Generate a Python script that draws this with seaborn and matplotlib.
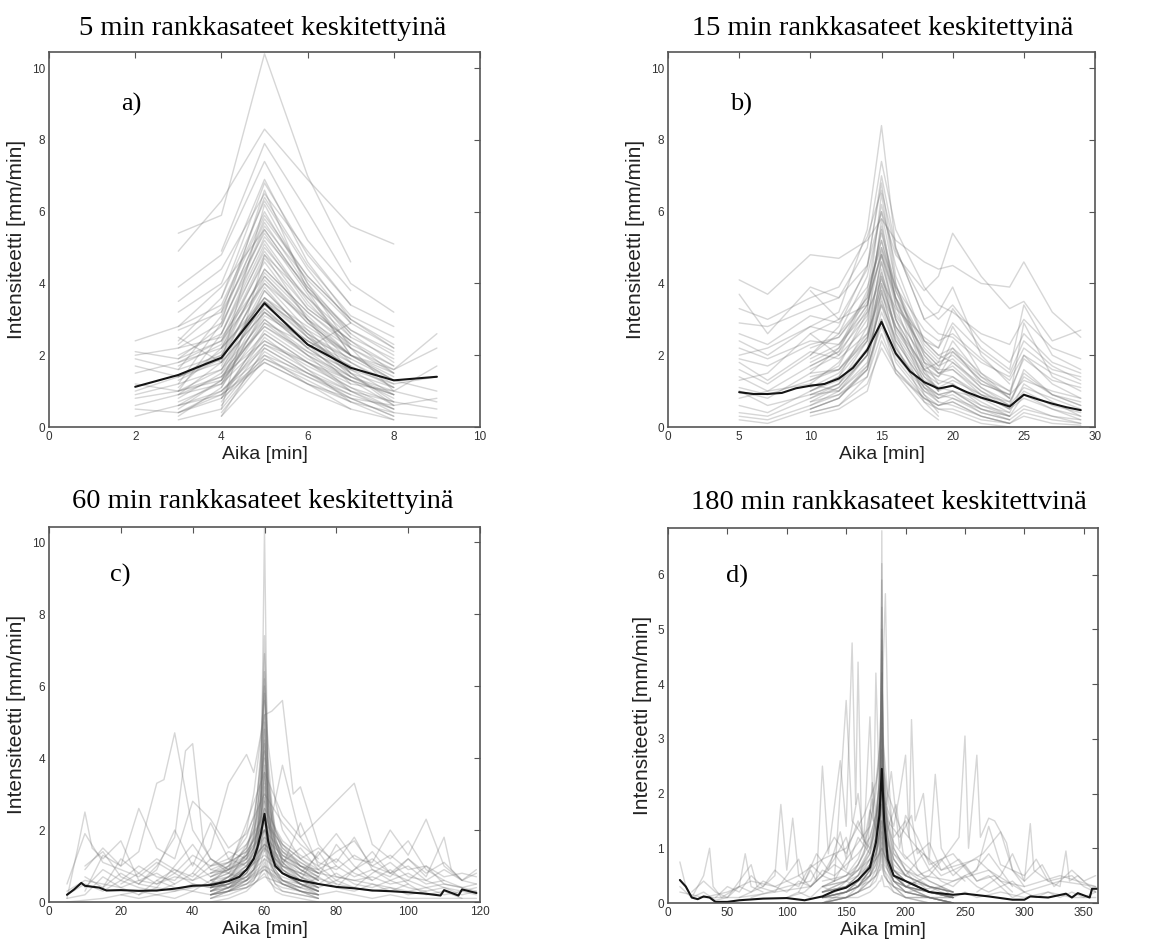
import numpy as np
import pandas as pd
import matplotlib
matplotlib.use("Agg")
import matplotlib.pyplot as plt
import seaborn as sns

# ---------------------------------------------------------------- data
N = None

# a) 5 min events, one value per minute: (start minute, values)
A_LINES = [
    (2, [2.4, 2.8, 3.9, 5.5, 3.8, 2.6, 1.8]),
    (2, [2.0, 2.2, 2.5, 4.2, 3.0, 2.0, 1.5]),
    (2, [1.5, 1.8, 2.2, 3.5, 2.5, 1.6, 0.9]),
    (2, [0.9, 1.2, 1.6, 3.0, 2.1, 1.3, 0.6]),
    (2, [0.3, 0.6, 1.0, 2.2, 1.5, 0.8, 0.3]),
    (2, [0.5, 0.4, 0.9, 1.8, 1.2, 0.7, 0.2]),
    (2, [1.2, 1.0, 1.3, 2.6, 1.8, 1.0, 0.5]),
    (2, [1.9, 1.6, 2.0, 3.3, 2.3, 1.5, 1.1]),
    (2, [2.1, 1.9, 2.4, 4.0, 3.0, 2.2, 1.6, 2.2]),
    (2, [0.8, 1.0, 1.4, 2.8, 2.0, 1.4, 1.0, 0.7]),
    (2, [1.7, 1.4, 1.8, 3.2, 2.4, 1.8, 1.2, 1.4]),
    (2, [1.0, 1.4, 1.9, 3.6, 2.6, 1.9, 1.3, 1.0]),
    (2, [0.6, 0.9, 1.2, 2.4, 1.7, 1.1, 0.7, 0.5]),
    (3, [5.4, 5.9, 10.4, 7.0, 4.6]),
    (3, [4.9, 6.3, 8.3, 6.9, 5.6, 5.1]),
    (3, [3.9, 4.8, 7.4, 5.2, 3.8]),
    (3, [3.2, 4.0, 6.9, 4.6, 3.0]),
    (3, [2.8, 3.4, 6.0, 4.0, 2.6]),
    (3, [2.2, 2.9, 5.2, 3.5, 2.2]),
    (3, [1.8, 2.4, 4.6, 3.0, 1.8]),
    (3, [1.4, 2.0, 4.0, 2.7, 1.5]),
    (3, [1.0, 1.6, 3.5, 2.3, 1.2]),
    (3, [0.7, 1.2, 3.0, 2.0, 1.0]),
    (3, [0.4, 0.8, 2.5, 1.6, 0.7]),
    (3, [0.2, 0.5, 2.0, 1.2, 0.5]),
    (3, [2.5, 1.8, 3.2, 2.2, 2.9]),
    (3, [1.2, 2.9, 6.6, 3.8, 2.0]),
    (3, [0.5, 1.3, 3.8, 2.6, 1.4]),
    (3, [1.1, 2.2, 4.3, 3.1, 2.0]),
    (3, [2.0, 2.6, 4.9, 3.3, 2.4]),
    (3, [1.6, 3.1, 5.7, 3.9, 2.5]),
    (3, [0.8, 1.5, 2.8, 2.1, 1.6]),
    (3, [2.4, 3.6, 6.3, 4.4, 2.9]),
    (3, [1.3, 1.9, 3.6, 2.5, 1.9]),
    (3, [3.5, 4.4, 6.5, 4.9, 3.4]),
    (3, [0.6, 0.9, 1.9, 1.4, 0.9]),
    (3, [1.7, 2.3, 4.8, 3.6, 2.3]),
    (3, [0.9, 1.4, 3.1, 2.4, 1.7]),
    (3, [2.7, 3.2, 5.4, 3.7, 2.0]),
    (3, [0.4, 1.0, 2.3, 1.8, 1.3]),
    (3, [1.9, 2.8, 5.5, 3.8, 2.7, 2.0]),
    (3, [0.9, 1.8, 4.2, 2.9, 2.0, 1.3]),
    (3, [0.3, 1.1, 3.3, 2.2, 1.4, 0.9]),
    (3, [1.4, 2.1, 4.4, 3.2, 2.3, 1.7]),
    (3, [0.6, 1.3, 2.9, 2.3, 1.7, 1.1]),
    (3, [2.3, 3.3, 5.9, 4.2, 3.0, 2.2]),
    (3, [1.0, 2.6, 5.1, 3.4, 2.4, 1.5]),
    (4, [4.9, 7.9, 6.0, 4.0, 3.2]),
    (4, [3.6, 6.8, 4.8, 3.4, 2.8]),
    (4, [3.0, 5.8, 4.2, 3.0, 2.3]),
    (4, [2.4, 5.0, 3.6, 2.5, 1.9]),
    (4, [2.0, 4.4, 3.2, 2.2, 1.5]),
    (4, [1.6, 3.8, 2.6, 1.8, 1.1]),
    (4, [1.2, 3.2, 2.2, 1.4, 0.8]),
    (4, [0.9, 2.6, 1.8, 1.1, 0.5]),
    (4, [0.6, 2.1, 1.4, 0.8, 0.3]),
    (4, [0.3, 1.6, 1.0, 0.5, 0.2]),
    (4, [1.8, 6.2, 4.0, 2.2, 1.0]),
    (4, [0.5, 4.8, 3.0, 1.5, 0.6]),
    (4, [1.3, 3.4, 2.4, 1.6, 1.2]),
    (4, [2.6, 5.3, 3.9, 2.7, 2.1]),
    (4, [0.7, 2.3, 1.6, 1.0, 0.7]),
    (4, [1.9, 4.1, 2.9, 2.0, 1.4]),
    (4, [3.2, 6.4, 4.5, 3.1, 2.5]),
    (4, [1.1, 2.9, 2.0, 1.3, 0.9]),
    (4, [2.2, 4.7, 3.3, 2.4, 1.7]),
    (4, [0.4, 1.9, 1.3, 0.7, 0.4]),
    (4, [1.5, 3.5, 2.7, 2.0, 1.3]),
    (4, [2.8, 5.6, 4.1, 2.9, 2.2]),
    (4, [0.8, 2.7, 1.9, 1.3, 0.9]),
    (4, [1.7, 3.9, 2.5, 1.5, 0.7]),
    (4, [0.3, 2.2, 1.5, 0.9, 0.5]),
    (4, [2.2, 3.6, 2.8, 2.0, 1.6, 2.6]),
    (4, [1.4, 2.4, 1.8, 1.2, 1.0, 1.7]),
    (4, [0.8, 1.8, 1.2, 0.8, 0.6, 0.8]),
    (4, [1.0, 2.0, 1.5, 1.0, 0.4, 0.25]),
]
A_MEAN_T = [2, 3, 4, 5, 6, 7, 8, 9]
A_MEAN = [1.12, 1.45, 1.93, 3.45, 2.3, 1.65, 1.3, 1.4]

# b) 15 min events on a shared time grid (None = outside the event)
B_T = [5, 7, 10, 12, 14, 15, 16, 18, 19, 20, 22, 24, 25, 27, 29]
B_LINES = [
    [4.1, 3.7, 4.8, 4.7, 5.2, 5.8, 5.2, 4.6, 4.4, 4.5, 4.0, 3.9, 4.6, 3.2, 2.5],
    [3.7, 2.6, 3.9, 3.6, 4.5, 6.0, 4.8, 3.8, 4.2, 5.4, 4.2, 3.3, 3.5, 2.4, 2.7],
    [2.9, 2.8, 3.3, 3.6, 5.0, 7.4, 5.5, 3.9, 3.4, 3.2, 2.6, 2.3, 3.0, 2.2, 1.9],
    [2.4, 2.0, 2.8, 3.2, 5.5, 8.4, 5.0, 3.0, 2.6, 2.5, 1.8, 1.4, 2.2, 1.6, 1.4],
    [1.6, 1.2, 2.0, 2.8, 4.5, 6.8, 4.2, 2.4, 2.0, 2.2, 1.2, 0.9, 1.3, 1.0, 0.8],
    [1.0, 0.8, 1.5, 2.2, 3.4, 5.5, 3.6, 2.0, 1.5, 1.6, 1.0, 0.5, 1.0, 0.6, 0.4],
    [0.6, 0.4, 1.0, 1.4, 2.4, 4.2, 2.6, 1.4, 1.0, 1.2, 0.6, 0.3, 0.6, 0.3, 0.2],
    [0.2, 0.1, 0.5, 0.8, 1.6, 3.0, 1.8, 0.8, 0.5, 0.5, 0.2, 0.1, 0.3, 0.1, 0.05],
    [1.3, 1.5, 2.6, 2.0, 2.8, 4.6, 3.0, 1.6, 1.8, 2.8, 1.5, 0.8, 2.9, 1.4, 1.0],
    [0.8, 1.0, 1.2, 1.0, 1.8, 3.6, 2.2, 1.1, 0.9, 1.0, 0.8, 0.6, 1.6, 0.9, 0.6],
    [3.3, 3.0, 3.6, 3.9, 5.3, 6.6, 4.9, 3.4, 3.0, 3.4, 2.4, 1.8, 2.6, 1.8, 1.5],
    [2.6, 2.3, 3.1, 2.9, 3.9, 5.0, 3.9, 2.7, 2.4, 2.6, 1.9, 1.3, 2.0, 1.5, 1.2],
    [1.9, 1.7, 2.3, 2.5, 3.5, 4.8, 3.4, 2.1, 1.7, 1.9, 1.1, 0.7, 1.4, 0.9, 0.7],
    [1.4, 1.0, 1.7, 2.1, 3.1, 4.3, 3.1, 1.9, 1.5, 1.7, 1.0, 0.6, 1.1, 0.8, 0.5],
    [0.4, 0.3, 0.8, 1.1, 2.0, 3.4, 2.1, 1.1, 0.8, 0.9, 0.4, 0.2, 0.5, 0.3, 0.1],
    [1.1, 0.9, 1.3, 1.6, 2.5, 3.9, 2.7, 1.5, 1.2, 1.4, 0.9, 0.5, 0.8, 0.5, 0.3],
    [0.3, 0.2, 0.6, 0.9, 1.4, 2.6, 1.6, 0.8, 0.6, 0.7, 0.3, 0.1, 0.4, 0.2, 0.1],
    [2.2, 1.9, 2.4, 2.3, 3.2, 4.1, 3.3, 2.5, 2.2, 2.9, 2.1, 1.5, 2.4, 1.7, 1.3],
    [1.8, 1.3, 2.1, 1.9, 2.6, 3.7, 2.8, 1.7, 1.4, 2.1, 1.4, 1.0, 1.9, 1.3, 1.1],
    [N, N, 1.8, 2.2, 3.8, 6.2, 4.5, 2.4, 2.0, 1.8, 1.1, 0.6, N, N, N],
    [N, N, 1.2, 1.8, 3.0, 5.0, 3.6, 1.8, 1.5, 1.4, 0.8, 0.4, N, N, N],
    [N, N, 0.8, 1.2, 2.2, 4.0, 2.8, 1.4, 1.1, 1.0, 0.5, 0.2, N, N, N],
    [N, N, 0.5, 0.8, 1.6, 3.2, 2.2, 1.0, 0.7, 0.6, 0.3, 0.1, N, N, N],
    [N, N, 0.3, 0.5, 1.0, 2.4, 1.6, 0.7, 0.5, 0.4, 0.1, 0.0, N, N, N],
    [N, N, 2.6, 3.0, 4.4, 7.0, 5.0, 3.0, 3.2, 3.9, 2.0, 1.2, N, N, N],
    [N, N, 1.5, 1.6, 2.6, 4.6, 3.2, 1.8, 1.6, 2.4, 1.4, 0.8, N, N, N],
    [N, N, 2.2, 2.5, 3.6, 5.4, 3.9, 2.3, 1.9, 2.1, 1.3, 0.9, N, N, N],
    [N, N, 1.6, 2.0, 3.3, 5.6, 3.8, 2.0, 1.6, 1.6, 0.9, 0.5, N, N, N],
    [N, N, 1.1, 1.5, 2.5, 4.2, 3.0, 1.6, 1.3, 1.2, 0.7, 0.3, N, N, N],
    [N, N, 0.7, 1.1, 2.0, 3.5, 2.4, 1.2, 0.9, 0.8, 0.4, 0.2, N, N, N],
    [N, N, 0.9, 1.0, 1.7, 2.8, 1.9, 0.9, 0.6, 0.7, 0.3, 0.1, N, N, N],
    [N, N, 1.9, 2.3, 3.4, 4.9, 3.5, 2.1, 1.7, 2.2, 1.5, 1.0, N, N, N],
    [N, N, 1.0, 1.4, 2.8, 5.8, 3.4, 1.2, 0.8, N, N, N, N, N, N],
    [N, N, 0.6, 1.0, 2.0, 4.4, 2.6, 0.9, 0.4, N, N, N, N, N, N],
    [N, N, 2.0, 2.6, 4.2, 6.0, 4.0, 1.8, 1.2, N, N, N, N, N, N],
    [N, N, 0.4, 0.6, 1.4, 3.0, 1.5, 0.5, 0.2, N, N, N, N, N, N],
    [N, N, 1.3, 1.7, 3.2, 6.5, 4.0, 1.6, 1.0, N, N, N, N, N, N],
    [N, N, 0.9, 1.2, 2.4, 4.8, 3.0, 1.1, 0.7, N, N, N, N, N, N],
    [N, N, 0.5, 0.8, 1.7, 3.8, 2.3, 0.7, 0.3, N, N, N, N, N, N],
    [N, N, 1.7, 2.1, 3.7, 5.2, 3.6, 1.5, 1.0, N, N, N, N, N, N],
    [2.0, 2.2, 2.8, 2.6, 3.6, 5.2, 3.8, 2.2, 1.8, 2.0, 1.3, 0.8, N, N, N],
    [1.0, 0.6, 0.9, 1.2, 2.0, 3.8, 2.4, 1.2, 0.9, 1.0, 0.5, 0.3, N, N, N],
    [N, N, 1.4, 1.6, 2.4, 4.0, 2.8, 1.6, 1.4, 1.8, 1.2, 0.9, 2.0, 1.2, 0.8],
    [N, N, 0.7, 0.9, 1.6, 3.0, 2.0, 1.0, 0.8, 1.0, 0.6, 0.4, 1.2, 0.7, 0.3],
    [N, N, 3.8, 3.0, 3.4, 4.8, 3.6, 2.4, 2.2, 3.3, 2.2, 1.6, 3.4, 2.0, 1.6],
    [N, N, 1.0, 1.3, 2.1, 3.4, 2.5, 1.3, 1.1, 1.3, 0.9, 0.7, 1.5, 0.9, 0.6],
    [N, N, 0.4, 0.6, 1.2, 2.2, 1.5, 0.8, 0.6, 0.8, 0.5, 0.3, 0.9, 0.5, 0.2],
]
B_MEAN_T = list(range(5, 30))
B_MEAN = [0.97, 0.92, 0.92, 0.95, 1.08, 1.15, 1.2, 1.35, 1.65, 2.15, 2.93,
          2.05, 1.55, 1.25, 1.07, 1.15, 0.97, 0.82, 0.7, 0.57, 0.9, 0.77,
          0.65, 0.55, 0.47]

# c) 60 min events: intensity around the peak minute ...
C_CORE_T = [45, 50, 55, 57, 58, 59, 60, 61, 62, 63, 65, 70, 75]
C_CORE = [
    [0.3, 0.5, 0.9, 1.2, 1.6, 2.6, 10.4, 2.4, 1.4, 1.1, 0.8, 0.5, 0.3],
    [0.6, 0.9, 1.5, 2.2, 3.0, 4.2, 7.4, 4.0, 2.8, 2.0, 1.4, 0.9, 0.6],
    [0.4, 0.7, 1.2, 1.8, 2.5, 3.6, 6.9, 3.4, 2.4, 1.8, 1.2, 0.7, 0.4],
    [0.8, 1.1, 1.8, 2.4, 3.0, 3.8, 6.0, 3.5, 2.6, 2.0, 1.6, 1.0, 0.7],
    [0.2, 0.4, 0.8, 1.2, 1.8, 2.8, 5.2, 2.6, 1.8, 1.3, 0.9, 0.5, 0.3],
    [0.5, 0.6, 1.0, 1.5, 2.0, 2.8, 4.5, 2.6, 2.0, 1.6, 1.2, 0.8, 0.5],
    [0.3, 0.5, 0.8, 1.2, 1.6, 2.4, 4.0, 2.2, 1.6, 1.2, 0.8, 0.5, 0.2],
    [1.0, 1.2, 1.6, 2.0, 2.4, 2.9, 3.5, 2.8, 2.3, 2.0, 1.6, 1.2, 0.9],
    [0.1, 0.3, 0.6, 0.9, 1.3, 1.9, 3.0, 1.7, 1.2, 0.9, 0.6, 0.3, 0.1],
    [0.4, 0.6, 0.9, 1.2, 1.5, 2.0, 2.6, 1.8, 1.4, 1.1, 0.8, 0.5, 0.3],
    [0.2, 0.4, 0.7, 0.9, 1.2, 1.6, 2.2, 1.5, 1.1, 0.9, 0.6, 0.4, 0.2],
    [0.6, 0.7, 0.9, 1.1, 1.3, 1.5, 1.8, 1.4, 1.2, 1.0, 0.8, 0.6, 0.5],
    [0.1, 0.2, 0.4, 0.6, 0.8, 1.1, 1.5, 1.0, 0.7, 0.5, 0.3, 0.2, 0.1],
    [0.3, 0.4, 0.6, 0.8, 0.9, 1.0, 1.2, 0.9, 0.8, 0.6, 0.5, 0.3, 0.2],
    [0.0, 0.1, 0.3, 0.5, 0.6, 0.8, 1.0, 0.7, 0.5, 0.3, 0.2, 0.1, 0.0],
    [0.2, 0.3, 0.4, 0.5, 0.6, 0.7, 0.8, 0.6, 0.5, 0.4, 0.3, 0.2, 0.1],
    [0.5, 1.0, 2.0, 3.0, 3.8, 4.6, 5.8, 4.4, 3.6, 2.8, 2.0, 1.2, 0.8],
    [0.3, 0.6, 1.4, 2.2, 3.0, 4.0, 6.4, 3.6, 2.6, 1.8, 1.1, 0.6, 0.3],
    [0.7, 0.9, 1.3, 1.6, 2.0, 2.4, 3.2, 2.4, 2.0, 1.7, 1.4, 1.0, 0.7],
    [0.4, 0.5, 0.7, 1.0, 1.4, 1.8, 2.4, 1.9, 1.5, 1.2, 0.9, 0.6, 0.4],
    [0.5, 0.7, 1.1, 1.5, 2.0, 2.9, 5.0, 2.8, 2.1, 1.6, 1.1, 0.7, 0.5],
    [0.3, 0.6, 1.0, 1.4, 1.9, 2.7, 4.8, 2.5, 1.8, 1.4, 1.0, 0.6, 0.4],
    [0.6, 0.8, 1.3, 1.8, 2.3, 3.1, 4.2, 3.0, 2.2, 1.7, 1.3, 0.9, 0.6],
    [0.2, 0.4, 0.9, 1.4, 2.1, 3.0, 5.6, 2.7, 1.9, 1.4, 0.9, 0.5, 0.3],
    [0.4, 0.5, 0.8, 1.1, 1.5, 2.1, 3.8, 2.0, 1.5, 1.1, 0.8, 0.5, 0.3],
    [0.7, 0.9, 1.2, 1.5, 1.8, 2.3, 3.3, 2.2, 1.8, 1.5, 1.2, 0.9, 0.6],
    [0.2, 0.3, 0.6, 0.8, 1.1, 1.5, 2.8, 1.4, 1.0, 0.8, 0.5, 0.3, 0.2],
    [0.5, 0.6, 0.9, 1.2, 1.6, 2.2, 3.6, 2.3, 1.7, 1.3, 1.0, 0.7, 0.5],
    [0.3, 0.4, 0.6, 0.9, 1.1, 1.4, 2.0, 1.3, 1.0, 0.8, 0.6, 0.4, 0.3],
    [0.9, 1.1, 1.4, 1.7, 2.0, 2.4, 2.9, 2.2, 1.9, 1.6, 1.3, 1.0, 0.8],
    [0.1, 0.3, 0.5, 0.7, 1.0, 1.3, 1.7, 1.2, 0.9, 0.7, 0.5, 0.3, 0.1],
    [0.4, 0.5, 0.7, 0.9, 1.1, 1.3, 1.6, 1.2, 1.0, 0.8, 0.6, 0.5, 0.3],
    [0.6, 0.8, 1.1, 1.3, 1.5, 1.7, 2.0, 1.6, 1.4, 1.2, 1.0, 0.8, 0.6],
    [0.2, 0.3, 0.5, 0.6, 0.8, 0.9, 1.1, 0.8, 0.7, 0.5, 0.4, 0.3, 0.2],
    [0.4, 0.7, 1.3, 1.9, 2.6, 3.5, 6.2, 3.3, 2.3, 1.6, 1.1, 0.7, 0.4],
    [0.8, 1.0, 1.5, 2.0, 2.6, 3.3, 4.4, 3.1, 2.4, 1.9, 1.5, 1.1, 0.8],
]
# ... and the rest of each event, as (minute, intensity) pairs
C_WIDE = [
    [(10, 0.3), (15, 1.3), (20, 1.0), (25, 1.4), (30, 3.3), (32, 3.4), (35, 4.7), (40, 2.0),
     (45, 1.2), (50, 0.8), (55, 0.6), (60, 0.9), (65, 0.5), (70, 0.4)],
    [(25, 0.5), (30, 1.0), (35, 1.8), (38, 4.2), (40, 4.4), (43, 1.6), (45, 1.2), (50, 0.9),
     (55, 1.2), (60, 2.0), (65, 1.0), (70, 0.8), (80, 0.5)],
    [(5, 0.1), (8, 1.5), (10, 2.5), (12, 1.5), (15, 1.2), (20, 1.7), (25, 0.6), (30, 0.8), (35, 0.5)],
    [(10, 0.9), (15, 1.5), (20, 1.0), (25, 2.6), (30, 1.5), (35, 1.2), (40, 2.8), (45, 2.3),
     (50, 1.5), (55, 1.9), (60, 3.0), (65, 2.2), (70, 1.6), (75, 1.2)],
    [(40, 0.8), (45, 1.5), (50, 3.3), (55, 4.1), (57, 3.6), (60, 5.2), (62, 5.3), (65, 5.6),
     (68, 3.0), (70, 3.2), (75, 1.6), (80, 1.0)],
    [(60, 1.4), (65, 3.8), (70, 1.8), (75, 2.3), (80, 2.8), (85, 3.3), (90, 1.6), (95, 1.2),
     (100, 1.7), (105, 0.9), (110, 0.6)],
    [(70, 0.8), (75, 1.3), (80, 1.9), (85, 1.2), (90, 1.1), (95, 2.0), (100, 1.3), (105, 2.3),
     (110, 1.0), (115, 0.6), (119, 0.5)],
    [(80, 0.4), (85, 0.9), (90, 1.4), (95, 0.8), (100, 1.2), (105, 0.7), (110, 1.8), (112, 0.9),
     (115, 0.6), (119, 0.9)],
    [(15, 0.4), (20, 0.8), (25, 0.5), (30, 0.9), (35, 2.0), (40, 1.0), (45, 2.2), (50, 1.2),
     (55, 1.0), (60, 1.6), (65, 1.2), (70, 0.9), (75, 0.7), (80, 1.6), (85, 1.0), (90, 0.6)],
    [(5, 0.3), (10, 0.6), (15, 0.5), (20, 0.4), (25, 0.6), (30, 0.5), (35, 0.7), (40, 0.6),
     (45, 0.8), (50, 0.9), (55, 1.1), (60, 1.8), (65, 1.3), (70, 1.0), (75, 0.8), (80, 0.7),
     (85, 0.6), (90, 0.7), (95, 0.5), (100, 0.6), (105, 0.4), (110, 0.5), (115, 0.4), (119, 0.3)],
    [(10, 1.0), (15, 1.4), (20, 0.7), (25, 0.5), (30, 0.4), (35, 1.0), (40, 1.6), (45, 0.9),
     (50, 0.8), (55, 1.6), (60, 2.4), (65, 1.5), (70, 1.0), (75, 0.9), (80, 1.2), (85, 0.8),
     (90, 0.6), (95, 0.9), (100, 0.5)],
    [(20, 0.2), (25, 0.3), (30, 0.2), (35, 0.3), (40, 0.4), (45, 0.5), (50, 0.4), (55, 0.7),
     (60, 1.2), (65, 0.8), (70, 0.6), (75, 1.4), (80, 0.7), (85, 0.6), (90, 0.5), (95, 0.4),
     (100, 0.3), (105, 0.4), (110, 0.2), (115, 0.3), (119, 0.2)],
    [(30, 0.6), (35, 0.9), (40, 0.7), (45, 1.2), (50, 0.9), (55, 2.2), (60, 3.6), (65, 2.4),
     (70, 1.8), (75, 1.1), (80, 0.9), (85, 1.3), (90, 1.0), (95, 0.8), (100, 1.0), (105, 0.6),
     (110, 0.9), (115, 0.6)],
    [(50, 0.3), (55, 0.8), (60, 1.5), (65, 1.0), (70, 2.2), (75, 1.0), (80, 1.4), (85, 1.7),
     (90, 1.0), (95, 1.3), (100, 0.9), (105, 1.0), (110, 0.7), (115, 0.8), (119, 0.7)],
    [(5, 0.2), (10, 0.5), (15, 0.3), (20, 0.6), (25, 0.4), (30, 0.3), (35, 0.5), (40, 0.8),
     (45, 0.5), (50, 0.6), (55, 0.9), (60, 1.3), (65, 0.9), (70, 0.6), (75, 0.5), (80, 0.8),
     (85, 0.5), (90, 0.4), (95, 0.6), (100, 0.4), (105, 0.3), (110, 0.4), (115, 0.2), (119, 0.3)],
    [(5, 0.1), (10, 0.2), (15, 0.7), (20, 0.4), (25, 0.2), (30, 0.6), (35, 0.4), (40, 0.3),
     (45, 0.6), (50, 0.4), (55, 0.5), (60, 0.9), (65, 0.6), (70, 0.4), (75, 0.7), (80, 0.4),
     (85, 0.3), (90, 0.5), (95, 0.3), (100, 0.5), (105, 0.2), (110, 0.3), (115, 0.1)],
    [(10, 0.4), (15, 0.9), (20, 0.6), (25, 1.0), (30, 0.7), (35, 0.6), (40, 1.1), (45, 0.7),
     (50, 1.0), (55, 1.3), (60, 2.0), (65, 1.4), (70, 1.1), (75, 0.8), (80, 1.0), (85, 0.7),
     (90, 0.9), (95, 0.6), (100, 0.8), (105, 0.5), (110, 0.6), (115, 0.4), (119, 0.5)],
    [(5, 0.0), (15, 0.1), (20, 0.2), (25, 0.1), (30, 0.2), (35, 0.1), (40, 0.3), (45, 0.2),
     (50, 0.3), (55, 0.4), (60, 0.7), (65, 0.5), (70, 0.3), (75, 0.2), (80, 0.3), (85, 0.2),
     (90, 0.1), (95, 0.2), (100, 0.1), (110, 0.1), (119, 0.1)],
    [(20, 0.5), (25, 0.8), (30, 1.2), (35, 0.9), (40, 0.6), (45, 1.0), (50, 1.4), (55, 1.2),
     (60, 2.6), (65, 1.7), (70, 1.3), (75, 1.0), (80, 0.6), (85, 0.9), (90, 1.2), (95, 0.8),
     (100, 0.6), (105, 1.0), (110, 0.5), (115, 0.4)],
    [(10, 0.7), (15, 0.4), (20, 1.2), (25, 0.8), (30, 0.5), (35, 0.8), (40, 0.5), (45, 0.4),
     (50, 0.7), (55, 1.0), (60, 1.6), (65, 1.1), (70, 1.5), (75, 0.9), (80, 0.5), (85, 0.4),
     (90, 0.8), (95, 1.1), (100, 0.7), (105, 0.6), (110, 0.4), (115, 0.3), (119, 0.4)],
    [(25, 0.2), (30, 0.4), (35, 0.3), (40, 0.5), (45, 0.4), (50, 0.5), (55, 0.6), (60, 1.0),
     (65, 0.7), (70, 0.5), (75, 0.4), (80, 0.6), (85, 0.4), (90, 0.3), (95, 0.4), (100, 0.2),
     (105, 0.3)],
    [(5, 0.5), (10, 1.9), (15, 1.1), (20, 0.9), (25, 0.7), (30, 1.1), (35, 0.8), (40, 1.3),
     (45, 1.0), (50, 1.1), (55, 1.4), (60, 2.2), (65, 1.6), (70, 1.2), (75, 1.5), (80, 1.1),
     (85, 1.8), (90, 0.9), (95, 0.7), (100, 1.2), (105, 0.8), (110, 1.1), (115, 0.6), (119, 0.8)],
]
C_MEAN_T = [5, 7, 9, 10, 14, 16, 20, 25, 30, 35, 40, 45, 50, 53, 55, 57, 58, 59, 60,
            61, 62, 63, 65, 67, 70, 75, 80, 85, 90, 95, 100, 105, 109, 110, 114, 115, 119]
C_MEAN = [0.2, 0.35, 0.53, 0.45, 0.4, 0.32, 0.33, 0.31, 0.32, 0.37, 0.45, 0.47, 0.58,
          0.7, 0.9, 1.2, 1.5, 1.9, 2.45, 1.7, 1.3, 1.0, 0.8, 0.7, 0.6, 0.5, 0.42, 0.38,
          0.32, 0.3, 0.27, 0.23, 0.18, 0.33, 0.18, 0.35, 0.25]

# d) 180 min events
D_CORE_T = [130, 150, 160, 170, 175, 178, 179, 180, 181, 182, 185, 190, 200, 220, 240]
D_CORE = [
    [0.1, 0.2, 0.3, 0.6, 0.9, 1.4, 2.0, 6.8, 1.8, 1.2, 0.7, 0.4, 0.3, 0.2, 0.1],
    [0.2, 0.3, 0.5, 0.9, 1.4, 2.2, 3.0, 5.9, 2.6, 1.8, 1.0, 0.6, 0.4, 0.2, 0.1],
    [0.0, 0.1, 0.2, 0.5, 0.8, 1.3, 2.0, 5.0, 1.9, 1.2, 0.7, 0.4, 0.2, 0.1, 0.0],
    [0.3, 0.5, 0.7, 1.2, 1.6, 2.2, 2.8, 4.2, 2.6, 2.0, 1.4, 0.9, 0.6, 0.4, 0.2],
    [0.1, 0.2, 0.4, 0.7, 1.0, 1.6, 2.1, 3.5, 2.0, 1.5, 1.0, 0.6, 0.4, 0.2, 0.1],
    [0.2, 0.4, 0.6, 0.9, 1.2, 1.7, 2.1, 3.0, 1.9, 1.5, 1.1, 0.8, 0.5, 0.3, 0.2],
    [0.1, 0.1, 0.3, 0.5, 0.8, 1.2, 1.7, 2.5, 1.5, 1.1, 0.7, 0.4, 0.2, 0.1, 0.0],
    [0.0, 0.2, 0.3, 0.6, 0.9, 1.2, 1.5, 2.0, 1.4, 1.1, 0.8, 0.5, 0.3, 0.1, 0.0],
    [0.1, 0.2, 0.3, 0.5, 0.7, 0.9, 1.1, 1.5, 1.0, 0.8, 0.6, 0.4, 0.3, 0.2, 0.1],
    [0.2, 0.3, 0.4, 0.5, 0.6, 0.8, 0.9, 1.2, 0.9, 0.7, 0.6, 0.4, 0.3, 0.2, 0.1],
    [0.0, 0.1, 0.2, 0.3, 0.4, 0.6, 0.7, 0.9, 0.6, 0.5, 0.4, 0.2, 0.1, 0.1, 0.0],
    [0.1, 0.2, 0.3, 0.4, 0.5, 0.6, 0.6, 0.7, 0.6, 0.5, 0.4, 0.3, 0.2, 0.1, 0.1],
    [0.0, 0.1, 0.1, 0.2, 0.3, 0.4, 0.4, 0.5, 0.4, 0.3, 0.3, 0.2, 0.1, 0.1, 0.0],
    [0.3, 0.5, 0.8, 1.4, 2.0, 2.8, 3.4, 4.6, 3.0, 2.4, 1.6, 1.0, 0.6, 0.3, 0.2],
    [0.1, 0.3, 0.5, 1.0, 1.5, 2.4, 3.2, 5.4, 2.8, 2.0, 1.2, 0.6, 0.3, 0.2, 0.1],
    [0.2, 0.3, 0.4, 0.8, 1.1, 1.6, 2.2, 4.8, 2.1, 1.5, 0.9, 0.5, 0.3, 0.2, 0.1],
    [0.1, 0.2, 0.3, 0.6, 0.9, 1.3, 1.8, 3.9, 1.6, 1.2, 0.8, 0.5, 0.3, 0.1, 0.1],
    [0.3, 0.4, 0.6, 1.0, 1.3, 1.8, 2.3, 3.3, 2.2, 1.7, 1.2, 0.8, 0.5, 0.3, 0.2],
    [0.0, 0.1, 0.2, 0.4, 0.6, 0.9, 1.3, 2.8, 1.2, 0.9, 0.6, 0.3, 0.1, 0.0, 0.0],
    [0.2, 0.3, 0.5, 0.8, 1.0, 1.3, 1.6, 2.2, 1.5, 1.2, 0.9, 0.6, 0.4, 0.2, 0.1],
    [0.1, 0.2, 0.3, 0.5, 0.7, 1.0, 1.3, 1.8, 1.2, 0.9, 0.7, 0.4, 0.2, 0.1, 0.0],
    [0.4, 0.5, 0.6, 0.8, 0.9, 1.1, 1.2, 1.4, 1.1, 1.0, 0.8, 0.6, 0.5, 0.3, 0.2],
    [0.1, 0.2, 0.4, 0.7, 1.2, 2.0, 2.8, 6.2, 2.4, 1.6, 0.9, 0.5, 0.3, 0.1, 0.0],
    [0.2, 0.4, 0.7, 1.1, 1.5, 2.1, 2.6, 3.8, 2.4, 1.8, 1.3, 0.8, 0.5, 0.3, 0.1],
    [0.0, 0.1, 0.2, 0.3, 0.5, 0.7, 0.9, 1.1, 0.8, 0.6, 0.4, 0.3, 0.1, 0.0, 0.0],
    [0.1, 0.1, 0.2, 0.4, 0.5, 0.7, 0.8, 1.0, 0.7, 0.6, 0.5, 0.3, 0.2, 0.1, 0.0],
    [0.3, 0.4, 0.5, 0.7, 0.8, 0.9, 1.0, 1.3, 1.0, 0.9, 0.7, 0.5, 0.4, 0.3, 0.2],
]
D_WIDE = [
    [(10, 0.75), (15, 0.3), (20, 0.1), (30, 0.5), (35, 1.0), (38, 0.3), (45, 0.1), (60, 0.3),
     (65, 0.9), (70, 0.3), (80, 0.2)],
    [(60, 0.1), (80, 0.3), (90, 0.5), (95, 1.8), (100, 0.6), (105, 1.55), (110, 0.5), (120, 0.3),
     (130, 0.5), (140, 0.8), (150, 1.2), (155, 0.8)],
    [(110, 0.2), (120, 0.6), (125, 0.4), (130, 2.5), (135, 0.9), (145, 2.6), (150, 1.4),
     (155, 4.75), (158, 1.8), (160, 4.4), (163, 1.2), (170, 1.0), (180, 1.8), (190, 0.6), (200, 0.4)],
    [(140, 0.4), (150, 3.7), (155, 1.5), (165, 1.2), (170, 3.4), (173, 1.5), (175, 4.2),
     (178, 2.0), (180, 3.6), (183, 5.65), (186, 2.2), (190, 1.0), (200, 0.6), (210, 0.3)],
    [(170, 0.5), (180, 2.0), (190, 1.4), (195, 2.0), (200, 2.7), (203, 1.2), (205, 3.35),
     (208, 1.5), (215, 2.0), (220, 0.8), (225, 2.35), (230, 1.0), (240, 0.6), (250, 0.4)],
    [(200, 0.3), (220, 0.5), (235, 0.9), (245, 1.2), (250, 3.05), (253, 1.0), (260, 2.7),
     (263, 1.2), (270, 1.55), (275, 1.5), (285, 1.1), (290, 0.6), (300, 0.3)],
    [(260, 0.2), (280, 0.5), (290, 0.9), (300, 0.4), (305, 1.45), (308, 0.6), (320, 0.4),
     (330, 0.3), (335, 0.95), (338, 0.4), (345, 0.5), (355, 0.3), (360, 0.2)],
    [(10, 0.2), (30, 0.1), (50, 0.2), (70, 0.4), (90, 0.3), (110, 0.5), (130, 0.8), (150, 1.0),
     (165, 1.6), (175, 2.2), (180, 3.2), (185, 2.0), (195, 1.4), (210, 1.0), (230, 0.6),
     (260, 0.8), (280, 0.4), (300, 0.3), (330, 0.5), (360, 0.3)],
    [(70, 0.1), (100, 0.3), (120, 0.4), (140, 1.2), (150, 0.9), (160, 1.5), (168, 1.0),
     (172, 2.2), (176, 1.5), (180, 2.8), (184, 1.8), (188, 2.4), (195, 1.0), (200, 1.6),
     (210, 1.2), (220, 0.7), (240, 0.9), (255, 0.5), (270, 0.9), (290, 0.3)],
    [(200, 0.2), (230, 0.3), (260, 0.6), (270, 1.4), (280, 0.7), (300, 0.5), (310, 0.8),
     (320, 0.4), (340, 0.5), (350, 0.3), (360, 0.2)],
    [(100, 0.1), (115, 0.2), (130, 0.5), (140, 0.4), (150, 0.8), (160, 1.1), (170, 1.4),
     (178, 2.6), (180, 4.2), (182, 2.4), (190, 1.2), (200, 1.5), (210, 0.6), (220, 0.4), (240, 0.2)],
    [(10, 0.3), (20, 0.1), (30, 0.2), (40, 0.05), (50, 0.1), (60, 0.3), (70, 0.2), (80, 0.4),
     (90, 0.3), (100, 0.2), (110, 0.4), (120, 0.3), (130, 0.6), (140, 0.5), (150, 0.7),
     (160, 0.9), (170, 1.2), (180, 2.0), (190, 0.9), (200, 0.7), (210, 0.5), (220, 0.6),
     (230, 0.4), (240, 0.3), (250, 0.5), (260, 0.3), (270, 0.2), (280, 0.3), (290, 0.1),
     (300, 0.2), (310, 0.1), (320, 0.2), (330, 0.1), (340, 0.2), (350, 0.1), (360, 0.2)],
    [(40, 0.1), (50, 0.3), (60, 0.2), (70, 0.5), (80, 0.3), (90, 0.6), (100, 0.4), (110, 0.3),
     (120, 0.7), (130, 0.5), (140, 0.9), (150, 0.6), (160, 1.2), (170, 0.9), (175, 1.6),
     (180, 2.6), (185, 1.4), (190, 1.1), (200, 0.8), (210, 1.0), (220, 0.6), (230, 0.8),
     (240, 0.5), (250, 0.7), (260, 0.4), (270, 0.5), (280, 0.3), (290, 0.4), (300, 0.2)],
    [(100, 0.1), (110, 0.2), (120, 0.1), (130, 0.3), (140, 0.2), (150, 0.4), (160, 0.3),
     (170, 0.6), (180, 1.0), (190, 0.5), (200, 0.3), (210, 0.4), (220, 0.2), (230, 0.3),
     (240, 0.1), (250, 0.2), (260, 0.1), (280, 0.2), (300, 0.1), (320, 0.2), (340, 0.1), (360, 0.1)],
    [(20, 0.2), (30, 0.4), (40, 0.2), (50, 0.1), (60, 0.4), (70, 0.7), (75, 0.3), (90, 0.2),
     (110, 0.8), (115, 0.4), (125, 0.9), (135, 0.6), (145, 1.3), (150, 0.8), (160, 2.0),
     (165, 1.1), (170, 1.7), (176, 1.3), (180, 2.2), (185, 1.5), (195, 1.2), (205, 1.6),
     (210, 0.9), (220, 1.1), (230, 0.6), (245, 0.8), (260, 0.4), (275, 0.5), (290, 0.2)],
    [(150, 0.2), (165, 0.5), (175, 0.9), (180, 1.5), (190, 0.7), (200, 0.5), (215, 0.9),
     (230, 0.5), (250, 0.7), (265, 0.9), (280, 1.3), (290, 0.6), (300, 0.4), (315, 0.7),
     (325, 0.3), (340, 0.6), (350, 0.4), (360, 0.5)],
    [(30, 0.1), (60, 0.1), (90, 0.2), (120, 0.3), (140, 0.7), (155, 0.5), (165, 0.9),
     (172, 1.9), (176, 1.1), (180, 2.4), (184, 1.3), (192, 1.8), (198, 0.9), (215, 0.5),
     (240, 0.4), (270, 0.6), (300, 0.2), (330, 0.4), (360, 0.3)],
]
D_MEAN_T = [10, 15, 20, 25, 30, 35, 40, 50, 60, 80, 100, 115, 130, 140, 150, 160, 170,
            175, 178, 180, 182, 185, 190, 200, 210, 220, 240, 250, 270, 290, 300, 305,
            320, 335, 340, 345, 355, 357, 362]
D_MEAN = [0.42, 0.3, 0.1, 0.07, 0.12, 0.1, 0.02, 0.02, 0.05, 0.08, 0.09, 0.05, 0.12,
          0.22, 0.28, 0.42, 0.65, 1.1, 1.6, 2.45, 1.5, 0.8, 0.5, 0.4, 0.3, 0.2, 0.15,
          0.17, 0.12, 0.06, 0.06, 0.12, 0.1, 0.17, 0.1, 0.18, 0.1, 0.26, 0.26]

TITLES = ["5 min rankkasateet keskitettyinä", "15 min rankkasateet keskitettyinä",
          "60 min rankkasateet keskitettyinä", "180 min rankkasateet keskitettvinä"]
PANEL_TAGS = ["a)", "b)", "c)", "d)"]
XLABEL = "Aika [min]"
YLABEL = "Intensiteetti [mm/min]"


# ---------------------------------------------------------------- helpers
def frame_from_pairs(lines):
    rows = []
    for i, pts in enumerate(lines):
        for t, v in pts:
            rows.append((i, t, v))
    return pd.DataFrame(rows, columns=["id", "t", "v"])


def pairs_from_grid(grid, lines):
    return [[(t, v) for t, v in zip(grid, ys) if v is not None] for ys in lines]


def pairs_from_start(lines):
    return [[(s + k, v) for k, v in enumerate(vals)] for s, vals in lines]


panels = [
    dict(lines=pairs_from_start(A_LINES), mt=A_MEAN_T, mv=A_MEAN,
         xlim=(0, 10), xt=range(0, 11, 2), ylim=(0, 10.45), yt=range(0, 11, 2)),
    dict(lines=pairs_from_grid(B_T, B_LINES), mt=B_MEAN_T, mv=B_MEAN,
         xlim=(0, 30), xt=range(0, 31, 5), ylim=(0, 10.45), yt=range(0, 11, 2)),
    dict(lines=pairs_from_grid(C_CORE_T, C_CORE) + C_WIDE, mt=C_MEAN_T, mv=C_MEAN,
         xlim=(0, 120), xt=range(0, 121, 20), ylim=(0, 10.42), yt=range(0, 11, 2)),
    dict(lines=pairs_from_grid(D_CORE_T, D_CORE) + D_WIDE, mt=D_MEAN_T, mv=D_MEAN,
         xlim=(0, 362), xt=range(0, 351, 50), ylim=(0, 6.85), yt=range(0, 7, 1)),
]

# ---------------------------------------------------------------- figure
sns.set_theme(style="white")
plt.rcParams["font.family"] = ["Liberation Sans", "DejaVu Sans"]
SERIF = ["Liberation Serif", "DejaVu Serif"]

W, H = 1172, 947
fig = plt.figure(figsize=(W / 100, H / 100), dpi=100)
boxes = [(49, 52, 431, 375), (668, 52, 427, 375), (49, 527, 431, 375), (668, 528, 430, 375)]
title_xy = [(263, 35), (883, 35), (263, 508), (889, 509)]
tag_xy = [(0.19, 0.86), (0.171, 0.86), (0.165, 0.872), (0.16, 0.87)]

for k, (p, (x0, y0, w, h)) in enumerate(zip(panels, boxes)):
    ax = fig.add_axes([x0 / W, 1 - (y0 + h) / H, w / W, h / H])
    df = frame_from_pairs(p["lines"])
    sns.lineplot(data=df, x="t", y="v", units="id", estimator=None, color="#6e6e6e",
                 alpha=0.28, lw=1.0, legend=False, ax=ax)
    sns.lineplot(x=p["mt"], y=p["mv"], color="#151515", lw=1.5, ax=ax)

    ax.set_xlim(*p["xlim"])
    ax.set_ylim(*p["ylim"])
    ax.set_xticks(list(p["xt"]))
    ax.set_yticks(list(p["yt"]))
    ax.tick_params(direction="in", top=True, right=True, length=4, width=0.8,
                   color="#555555", labelsize=8.5, labelcolor="#333333", pad=3)
    for s in ax.spines.values():
        s.set_color("#555555")
        s.set_linewidth(1.2)
    ax.set_xlabel(XLABEL, fontsize=14, color="#222222", labelpad=2)
    ax.set_ylabel(YLABEL, fontsize=15, color="#222222", labelpad=4)

    ax.text(*tag_xy[k], PANEL_TAGS[k], transform=ax.transAxes, family=SERIF,
            fontsize=19, ha="center", va="center", color="black")
    fig.text(title_xy[k][0] / W, 1 - title_xy[k][1] / H, TITLES[k], family=SERIF,
             fontsize=20.5, ha="center", va="baseline", color="black")

fig.savefig("out.png", dpi=100)
